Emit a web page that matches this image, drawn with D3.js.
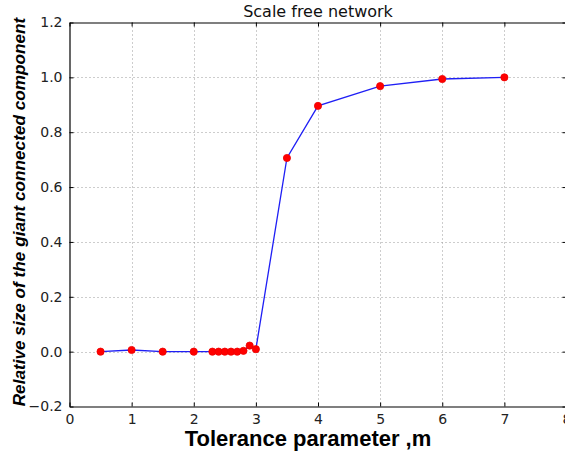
<!DOCTYPE html>
<html>
<head>
<meta charset="utf-8">
<script src="https://cdn.jsdelivr.net/npm/d3@7"></script>
<style>
  html, body { margin: 0; padding: 0; background: #fff; }
  svg { display: block; }
</style>
</head>
<body>
<svg id="chart" width="565" height="454"></svg>
<script>
// Tolerance parameter m and the relative size of the giant connected component
const tolerance = [0.5, 1, 1.5, 2, 2.3, 2.4, 2.5, 2.6, 2.7, 2.8, 2.9, 3.0, 3.5, 4, 5, 6, 7];
const giantSize = [0.0, 0.006, 0.0, 0.0, 0.0, 0.0, 0.0, 0.0, 0.0, 0.003, 0.022, 0.009, 0.706, 0.896, 0.968, 0.994, 1.0];
const xTicks = [0, 1, 2, 3, 4, 5, 6, 7, 8];
const yTicks = [-0.2, 0.0, 0.2, 0.4, 0.6, 0.8, 1.0, 1.2];

const svg = d3.select("#chart");
const margin = { left: 69.5, top: 22.5, right: 566.5, bottom: 406.5 };

const x = d3.scaleLinear().domain([0, 8]).range([margin.left, margin.right]);
const y = d3.scaleLinear().domain([-0.2, 1.2]).range([margin.bottom, margin.top]);

const tickFont = "DejaVu Sans, sans-serif";

// grid
const grid = svg.append("g").attr("stroke", "#9a9a9a").attr("stroke-width", 1)
  .attr("stroke-dasharray", "1,3");
grid.selectAll("line.vx").data(xTicks.slice(1, -1)).join("line")
  .attr("x1", d => Math.round(x(d)) + 0.5).attr("x2", d => Math.round(x(d)) + 0.5)
  .attr("y1", margin.top).attr("y2", margin.bottom);
grid.selectAll("line.hy").data(yTicks.slice(1, -1)).join("line")
  .attr("y1", d => Math.round(y(d)) + 0.5).attr("y2", d => Math.round(y(d)) + 0.5)
  .attr("x1", margin.left).attr("x2", margin.right);

// axes with inward ticks
const xAxis = d3.axisBottom(x).tickValues(xTicks).tickFormat(d3.format("d"))
  .tickSizeInner(-4).tickSizeOuter(0).tickPadding(8);
const gx = svg.append("g").attr("transform", `translate(0,${margin.bottom})`).call(xAxis);
const xTop = d3.axisTop(x).tickValues(xTicks).tickFormat("").tickSizeInner(-4).tickSizeOuter(0);
const gxt = svg.append("g").attr("transform", `translate(0,${margin.top})`).call(xTop);

const yAxis = d3.axisLeft(y).tickValues(yTicks).tickFormat(d => d3.format(".1f")(d).replace("-", "\u2212"))
  .tickSizeInner(-4).tickSizeOuter(0).tickPadding(7);
const gy = svg.append("g").attr("transform", `translate(${margin.left},0)`).call(yAxis);
const yRight = d3.axisRight(y).tickValues(yTicks).tickFormat("").tickSizeInner(-4).tickSizeOuter(0);
const gyr = svg.append("g").attr("transform", `translate(${margin.right},0)`).call(yRight);

[gx, gxt, gy, gyr].forEach(g => {
  g.select(".domain").attr("stroke", "#000").attr("stroke-width", 1.2);
  g.selectAll(".tick line").attr("stroke", "#000");
  g.selectAll(".tick text").attr("font-family", tickFont).attr("font-size", 14).attr("fill", "#222");
});

// line and markers
const line = d3.line().x((d, i) => x(tolerance[i])).y(d => y(d));
svg.append("path").datum(giantSize).attr("d", line)
  .attr("fill", "none").attr("stroke", "#1f1ff5").attr("stroke-width", 1.3);

svg.append("g").selectAll("circle").data(giantSize).join("circle")
  .attr("cx", (d, i) => x(tolerance[i])).attr("cy", d => y(d)).attr("r", 3.6)
  .attr("fill", "#ff0000").attr("stroke", "#ee0000").attr("stroke-width", 0.8);

// title and axis labels
svg.append("text").attr("x", 318).attr("y", 17).attr("text-anchor", "middle")
  .attr("font-family", tickFont).attr("font-size", 16).attr("fill", "#111")
  .text("Scale free network");

svg.append("text").attr("x", 308).attr("y", 446).attr("text-anchor", "middle")
  .attr("font-family", "Liberation Sans, Arial, sans-serif").attr("font-weight", "bold")
  .attr("font-size", 22).attr("fill", "#000")
  .text("Tolerance parameter ,m");

svg.append("text").attr("transform", "translate(25,212) rotate(-90)").attr("text-anchor", "middle")
  .attr("font-family", "Liberation Sans, Arial, sans-serif").attr("font-weight", "bold")
  .attr("font-style", "italic").attr("font-size", 17.2).attr("fill", "#000")
  .text("Relative size of the giant connected component");
</script>
</body>
</html>
